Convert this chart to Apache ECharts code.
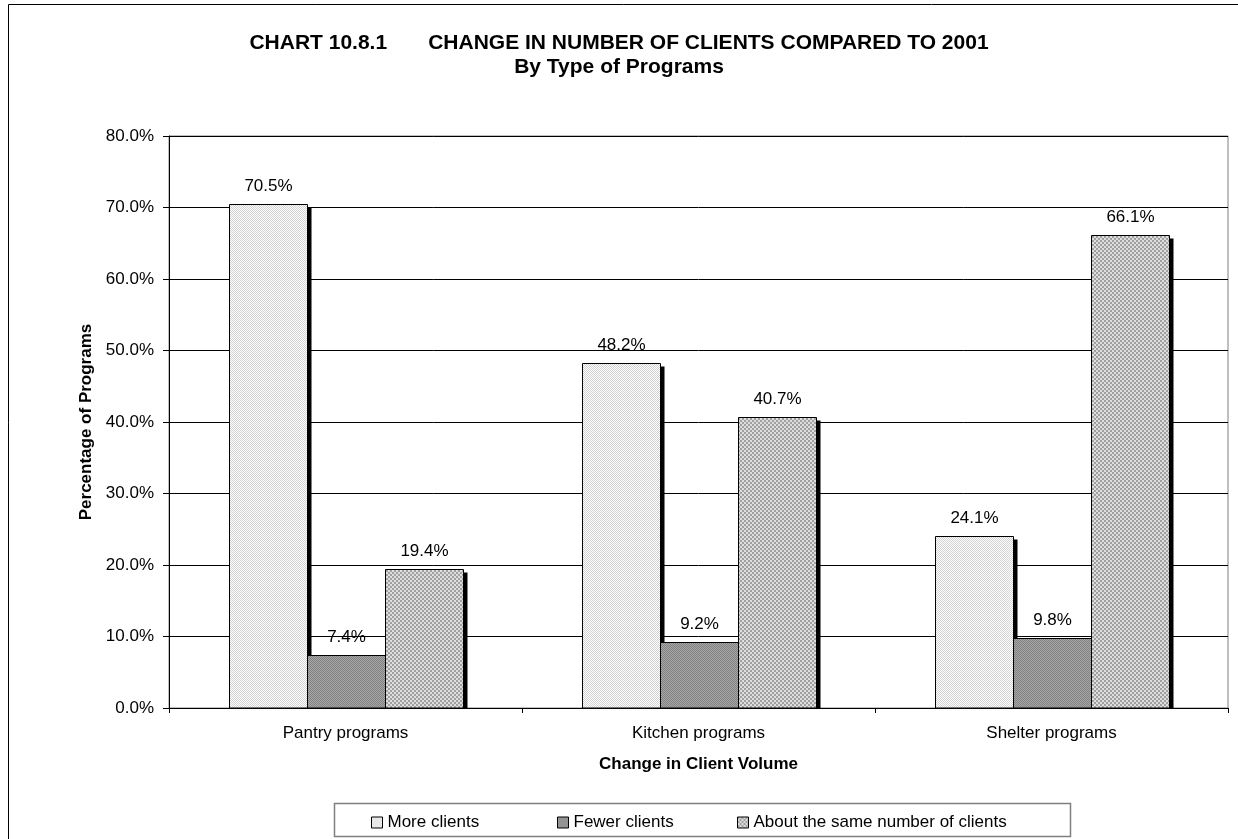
<!DOCTYPE html>
<html>
<head>
<meta charset="utf-8">
<script src="https://cdn.jsdelivr.net/npm/echarts@6/dist/echarts.min.js"></script>
<style>
html,body{margin:0;padding:0;background:#fff;}
#chart{width:1238px;height:839px;}
</style>
</head>
<body>
<div id="chart"></div>
<script>
const categories = ['Pantry programs', 'Kitchen programs', 'Shelter programs'];
const seriesNames = ['More clients', 'Fewer clients', 'About the same number of clients'];
const moreClients = [70.5, 48.2, 24.1];
const fewerClients = [7.4, 9.2, 9.8];
const sameClients = [19.4, 40.7, 66.1];
const yTicks = { min: 0, max: 80, interval: 10 };

function pattern(size, cells) {
  const c = document.createElement('canvas');
  c.width = size; c.height = size;
  const ctx = c.getContext('2d');
  cells(ctx);
  return { image: c, repeat: 'repeat' };
}
const patMore = pattern(2, ctx => {
  ctx.fillStyle = '#ffffff'; ctx.fillRect(0,0,2,2);
  ctx.fillStyle = '#d2d2d2'; ctx.fillRect(0,0,1,1); ctx.fillRect(1,1,1,1);
});
const patFewer = pattern(2, ctx => {
  ctx.fillStyle = '#a6a6a6'; ctx.fillRect(0,0,2,2);
  ctx.fillStyle = '#828282'; ctx.fillRect(0,0,1,1); ctx.fillRect(1,1,1,1);
});
const patSame = pattern(4, ctx => {
  ctx.fillStyle = '#dedede'; ctx.fillRect(0,0,4,4);
  ctx.fillStyle = '#a0a0a0'; ctx.fillRect(0,0,2,2); ctx.fillRect(2,2,2,2);
});
const fills = [patMore, patFewer, patSame];
const values = [moreClients, fewerClients, sameClients];

const font = 'Liberation Sans, Arial, sans-serif';
const chart = echarts.init(document.getElementById('chart'), null, { renderer: 'canvas' });

const BAR_FRACTION = 0.221;

const series = seriesNames.map((name, i) => ({
  name: name,
  type: 'custom',
  data: values[i].map((v, k) => [k, v]),
  encode: { x: 0, y: 1 },
  itemStyle: { color: fills[i], borderColor: '#000', borderWidth: 1 },
  renderItem: function (params, api) {
    const cat = api.value(0);
    const val = api.value(1);
    const base = api.coord([cat, 0]);
    const top = api.coord([cat, val]);
    const band = api.size([1, 0])[0];
    const w = Math.round(band * BAR_FRACTION);
    const x = Math.round(base[0] + (i - 1) * w - w / 2) + 0.5;
    const yTop = Math.round(top[1]) + 0.5;
    const yBase = Math.round(base[1]);
    return {
      type: 'group',
      children: [
        { type: 'rect', shape: { x: x + 1, y: yTop + 3, width: w + 3, height: yBase - yTop - 2 }, style: { fill: '#000' } },
        { type: 'rect', shape: { x: x, y: yTop, width: w, height: yBase - yTop }, style: { fill: fills[i], stroke: '#000', lineWidth: 1 } },
        { type: 'text', x: x + w / 2, y: yTop - 10,
          style: { text: val.toFixed(1) + '%', align: 'center', verticalAlign: 'bottom', fontFamily: font, fontSize: 17, fill: '#000' } }
      ]
    };
  }
}));

const legendX = [371, 557, 737];
const legends = seriesNames.map((name, i) => ({
  data: [name],
  left: legendX[i],
  top: 814,
  padding: 0,
  itemWidth: 11,
  itemHeight: 11,
  icon: 'rect',
  itemStyle: { color: fills[i], borderColor: '#000', borderWidth: 1 },
  textStyle: { fontFamily: font, fontSize: 17, color: '#000' },
  selectedMode: false
}));

chart.setOption({
  animation: false,
  backgroundColor: '#fff',
  textStyle: { fontFamily: font },
  title: {
    text: '{a|CHART 10.8.1}{b|CHANGE IN NUMBER OF CLIENTS COMPARED TO 2001}\n{a|By Type of Programs}',
    left: 'center',
    top: 26,
    textStyle: {
      fontFamily: font, fontSize: 21, fontWeight: 'bold', color: '#000', lineHeight: 24, align: 'center',
      rich: {
        a: { fontFamily: font, fontSize: 21, fontWeight: 'bold', color: '#000', lineHeight: 24 },
        b: { fontFamily: font, fontSize: 21, fontWeight: 'bold', color: '#000', lineHeight: 24, padding: [0, 0, 0, 41] }
      }
    }
  },
  grid: {
    left: 169, right: 10, top: 136, bottom: 131,
    show: true, borderColor: '#808080', borderWidth: 1, backgroundColor: 'transparent'
  },
  legend: legends,
  xAxis: {
    type: 'category',
    data: categories,
    name: 'Change in Client Volume',
    nameLocation: 'middle',
    nameGap: 48,
    nameTextStyle: { fontFamily: font, fontSize: 17, fontWeight: 'bold', color: '#000' },
    axisLine: { lineStyle: { color: '#000', width: 1 } },
    axisTick: { show: true, alignWithLabel: false, length: 5, lineStyle: { color: '#000' } },
    axisLabel: { fontFamily: font, fontSize: 17, color: '#000', margin: 17 }
  },
  yAxis: {
    type: 'value',
    min: yTicks.min, max: yTicks.max, interval: yTicks.interval,
    name: 'Percentage of Programs',
    nameLocation: 'middle',
    nameGap: 72,
    nameTextStyle: { fontFamily: font, fontSize: 17, fontWeight: 'bold', color: '#000' },
    axisLine: { show: true, lineStyle: { color: '#000', width: 1 } },
    axisTick: { show: true, length: 6, lineStyle: { color: '#000' } },
    axisLabel: { fontFamily: font, fontSize: 17, color: '#000', margin: 15, formatter: v => v.toFixed(1) + '%' },
    splitLine: { show: true, lineStyle: { color: '#000', width: 1 } }
  },
  graphic: [
    { type: 'rect', shape: { x: 8.5, y: 4.5, width: 1300, height: 900 }, style: { fill: 'none', stroke: '#000', lineWidth: 1 }, silent: true, z: -1 },
    { type: 'rect', shape: { x: 334.5, y: 803.5, width: 736, height: 33 }, style: { fill: '#fff', stroke: '#808080', lineWidth: 1.5 }, silent: true, z: 0 }
  ],
  series: series
});
</script>
</body>
</html>
